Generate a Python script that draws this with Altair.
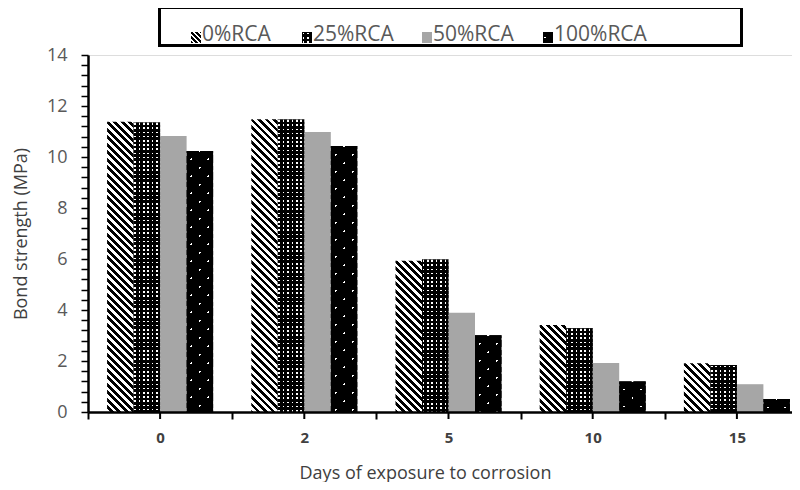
import math
import altair as alt

# ---------------- data ----------------
days = ["0", "2", "5", "10", "15"]
series = ["0%RCA", "25%RCA", "50%RCA", "100%RCA"]
rca0 = [11.38, 11.48, 5.93, 3.41, 1.91]
rca25 = [11.35, 11.47, 5.98, 3.28, 1.84]
rca50 = [10.82, 10.98, 3.89, 1.92, 1.09]
rca100 = [10.24, 10.43, 3.01, 1.20, 0.51]
values_by_series = [rca0, rca25, rca50, rca100]

y_ticks = [round(0.4 * k, 1) for k in range(36)]

# ---------------- layout ----------------
Y_MAX = 14
PLOT_H = 357
PLOT_W = 721
PX = PLOT_H / Y_MAX
STEP = PLOT_W / len(days)
OFF_PAD = 0.72
BAR_W = STEP / (len(series) + 2 * OFF_PAD)
FONT = "Open Sans"
S2 = math.sqrt(2)


def pattern(w, h, nx, ny, period, width, on, off, phase=0.0):
    """Linear gradient (bbox units) producing parallel stripes with normal (nx, ny)."""
    n = math.hypot(nx, ny)
    nx, ny = nx / n, ny / n
    corners = [(0, 0), (w, 0), (0, h), (w, h)]
    qs = [nx * x + ny * y for x, y in corners]
    qmin, qmax = min(qs), max(qs)
    cx, cy = corners[qs.index(qmin)]
    u1, v1 = cx / w, cy / h
    s = (qmax - qmin) / (nx * nx * w * w + ny * ny * h * h)
    u2, v2 = u1 + s * nx * w, v1 + s * ny * h
    L = qmax - qmin
    segs = []
    k = math.floor((qmin - phase) / period) - 1
    while True:
        c = phase + k * period
        a, b = c - width / 2, c + width / 2
        if a > qmax:
            break
        segs.append((a, b))
        k += 1
    stops = []

    def add(q, col):
        t = min(max((q - qmin) / L, 0.0), 1.0)
        stops.append({"offset": round(t, 5), "color": col})

    cur = qmin
    for a, b in segs:
        if b <= qmin:
            continue
        a2, b2 = max(a, qmin), min(b, qmax)
        if a2 > cur:
            add(cur, off)
            add(a2, off)
        add(a2, on)
        add(b2, on)
        cur = b2
    if cur < qmax:
        add(cur, off)
        add(qmax, off)
    return {"gradient": "linear", "x1": round(u1, 6), "y1": round(v1, 6),
            "x2": round(u2, 6), "y2": round(v2, 6), "stops": stops}


BLACK, WHITE, CLEAR, GREY = "#000000", "#ffffff", "rgba(0,0,0,0)", "#a6a6a6"


def fills(si, w, h, legend=False):
    if si == 0:
        per = (5.0 if legend else 7.5) / S2
        return pattern(w, h, 1, -1, per, per / 2, BLACK, WHITE), CLEAR
    if si == 1:
        g1 = pattern(w, h, 1, 0, 4.4, 1.6, WHITE, BLACK, 1.5)
        g2 = pattern(w, h, 0, 1, 4.2, 1.6, CLEAR, BLACK, 1.5)
        return g1, g2
    if si == 2:
        return GREY, CLEAR
    per = 17 / S2
    if legend:
        p1, p2 = (2 - 5.6) / S2, (2 + 5.6) / S2
    else:
        p1 = p2 = w / (2 * S2)
    g1 = pattern(w, h, 1, -1, per, 1.5, WHITE, BLACK, p1)
    g2 = pattern(w, h, 1, 1, per, 1.5, CLEAR, BLACK, p2)
    return g1, g2


bar_rows = []
for si, name in enumerate(series):
    for di, d in enumerate(days):
        v = values_by_series[si][di]
        g1, g2 = fills(si, BAR_W, v * PX)
        bar_rows.append({"day": d, "series": name, "value": v, "g1": g1, "g2": g2,
                         "overlay": si in (1, 3)})

legend_sx = [103, 214, 334, 455]
legend_rows = []
for si, name in enumerate(series):
    g1, g2 = fills(si, 10, 11, legend=True)
    legend_rows.append({"label": name, "sx": legend_sx[si], "sx2": legend_sx[si] + 10,
                        "tx": legend_sx[si] + 11, "g1": g1, "g2": g2,
                        "overlay": si in (1, 3)})

bars_data = alt.InlineData(values=bar_rows)
legend_data = alt.InlineData(values=legend_rows)
days_data = alt.InlineData(values=[{"day": d} for d in days])

x_scale = alt.Scale(domain=days, paddingInner=0, paddingOuter=0)
x_axis = alt.Axis(
    title="Days of exposure to corrosion", tickBand="extent", labelAngle=0,
    labelFont=FONT, labelFontSize=15, labelFontWeight="bold", labelColor="#404040",
    labelPadding=11, domainColor="black", domainWidth=2.5, tickColor="black",
    tickWidth=2, tickSize=7, titleFont=FONT, titleFontSize=18, titleFontWeight="normal",
    titleColor="#404040", titleX=337, titleY=61, titleBaseline="middle", zindex=2,
)
y_axis = alt.Axis(
    title="Bond strength (MPa)", values=y_ticks,
    labelExpr="abs(datum.value % 2) < 0.001 ? format(datum.value, 'd') : ''",
    labelFont=FONT, labelFontSize=18, labelColor="#595959", labelPadding=14,
    domainColor="black", domainWidth=2.5, tickColor="black", tickWidth=1.5, tickSize=7,
    grid=False, titleFont=FONT, titleFontSize=18, titleFontWeight="normal",
    titleColor="#404040", titleAngle=-90, titleX=-67, titleY=PLOT_H / 2,
    titleAlign="center", titleBaseline="middle", zindex=2,
)

X = alt.X("day:N", scale=x_scale, axis=x_axis, sort=days)
XO = alt.XOffset("series:N", scale=alt.Scale(domain=series, paddingInner=0, paddingOuter=OFF_PAD))
Y = alt.Y("value:Q", scale=alt.Scale(domain=[0, Y_MAX], nice=False, zero=True), axis=y_axis)

bars_base = alt.Chart(bars_data).mark_bar(strokeWidth=0).encode(
    x=X, xOffset=XO, y=Y, fill=alt.Fill("g1:N", scale=None, legend=None)
)
bars_overlay = alt.Chart(bars_data).mark_bar(strokeWidth=0).encode(
    x=X, xOffset=XO, y=Y, fill=alt.Fill("g2:N", scale=None, legend=None)
).transform_filter("datum.overlay")

center_ticks = alt.Chart(days_data).mark_rule(color="black", strokeWidth=2).encode(
    x=X, y=alt.value(PLOT_H), y2=alt.value(PLOT_H + 7)
)

legend_box = alt.Chart(days_data).mark_rect(
    fill="white", stroke="black", strokeWidth=3
).encode(
    x=alt.value(71.5), x2=alt.value(653.5), y=alt.value(-47.5), y2=alt.value(-9.5)
).transform_filter("datum.day == '0'")

LX = alt.X("sx:Q", scale=None, axis=None)
legend_sym = alt.Chart(legend_data).mark_rect(strokeWidth=0).encode(
    x=LX, x2="sx2:Q", y=alt.value(-23), y2=alt.value(-12),
    fill=alt.Fill("g1:N", scale=None, legend=None)
)
legend_sym2 = alt.Chart(legend_data).mark_rect(strokeWidth=0).encode(
    x=LX, x2="sx2:Q", y=alt.value(-23), y2=alt.value(-12),
    fill=alt.Fill("g2:N", scale=None, legend=None)
).transform_filter("datum.overlay")
legend_txt = alt.Chart(legend_data).mark_text(
    align="left", baseline="middle", font=FONT, fontSize=21, color="#595959"
).encode(x=alt.X("tx:Q", scale=None, axis=None), y=alt.value(-20), text="label:N")

chart = alt.layer(
    bars_base, bars_overlay, center_ticks, legend_box, legend_sym, legend_sym2, legend_txt
).properties(
    width=PLOT_W, height=PLOT_H,
    autosize=alt.AutoSizeParams(type="none"),
    padding={"left": 80, "top": 47, "right": -17, "bottom": 70},
).configure_view(stroke=None).configure(font=FONT, background="white")

chart.save("out.html", embed_options={"renderer": "svg", "actions": False})
